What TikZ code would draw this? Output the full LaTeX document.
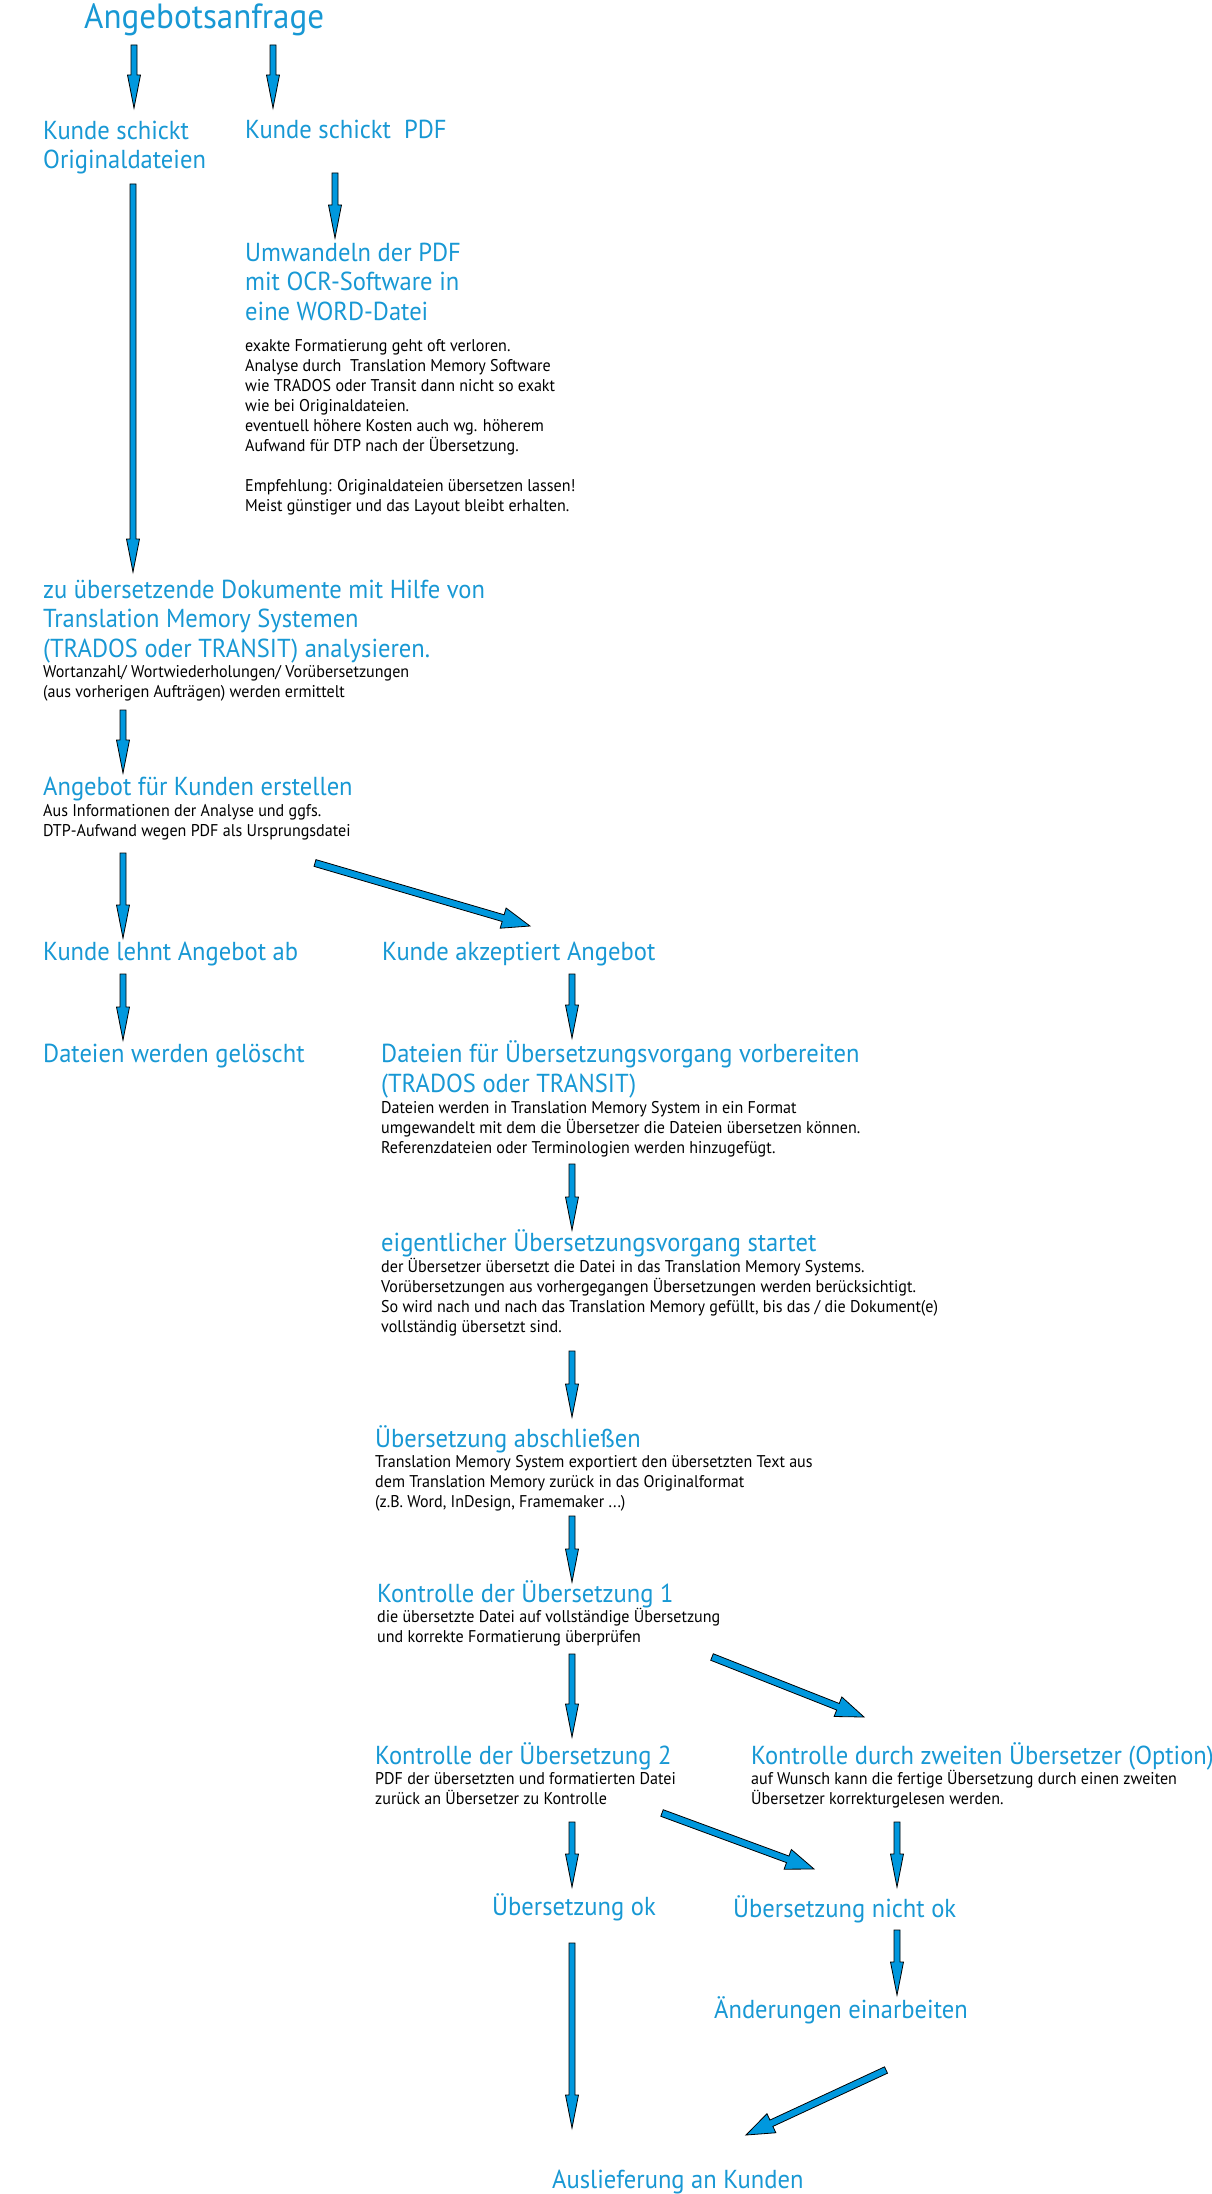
\documentclass[tikz,border=0pt]{standalone}
\usepackage{fontspec}
\setmainfont{PT Sans}[FakeStretch=0.945]
\usetikzlibrary{calc,positioning}
\definecolor{stepblue}{RGB}{24,152,212}
\definecolor{arrowblue}{RGB}{0,152,222}
\tikzset{
steptitle/.style={
  anchor=base west,
  inner sep=0pt,
  align=left,
  text=stepblue,
  font=\fontsize{26}{29.5}\selectfont
  },
stepnote/.style={
  anchor=base west,
  inner sep=0pt,
  align=left,
  font=\fontsize{17}{20}\selectfont
  },
arrowbody/.style={
  draw=black,
  line width=0.8pt,
  fill=arrowblue,
  line join=miter
  }
}
% block arrow: from, to, half shaft, half head, head length
\newcommand{\blockarrow}[5]{%
  \coordinate (ah) at ($(#2)!#5!(#1)$);
  \draw[arrowbody] ($(#1)!#3!90:(#2)$) -- ($(ah)!#3!90:(#2)$) -- ($(ah)!#4!90:(#2)$) -- (#2)
    -- ($(ah)!#4!-90:(#2)$) -- ($(ah)!#3!-90:(#2)$) -- ($(#1)!#3!-90:(#2)$) -- cycle;}
\newcommand{\flowarrow}[2]{\blockarrow{#1}{#2}{3pt}{6.5pt}{33pt}}
\newcommand{\sidearrow}[2]{\blockarrow{#1}{#2}{3.5pt}{10.5pt}{28pt}}

\begin{document}
\begin{tikzpicture}[x=1pt,y=-1pt]
  \useasboundingbox (0,0) rectangle (1211,2194);

  % steps (multi-line nodes sit on their last baseline)
  \node[steptitle,font=\fontsize{35}{40}\selectfont] (request) at (84,29) {Angebotsanfrage};
  \node[steptitle] (orig) at (43,169) {Kunde schickt\\Originaldateien};
  \node[steptitle] (pdf) at (245,139) {Kunde schickt\ \ PDF};
  \node[steptitle] (ocr) at (245,320) {Umwandeln der PDF\\mit OCR-Software in\\eine WORD-Datei};
  \node[stepnote] (ocrnote) at (245,511) {exakte Formatierung geht oft verloren.\\
    Analyse durch\ \ Translation Memory Software\\
    wie TRADOS oder Transit dann nicht so exakt\\
    wie bei Originaldateien.\\
    eventuell höhere Kosten auch wg. höherem\\
    Aufwand für DTP nach der Übersetzung.\\[20pt]
    Empfehlung: Originaldateien übersetzen lassen!\\
    Meist günstiger und das Layout bleibt erhalten.};
  \node[steptitle] (analyse) at (43,657) {zu übersetzende Dokumente mit Hilfe von\\Translation Memory Systemen\\(TRADOS oder TRANSIT) analysieren.};
  \node[stepnote] (analysenote) at (43,697) {Wortanzahl/ Wortwiederholungen/ Vorübersetzungen\\(aus vorherigen Aufträgen) werden ermittelt};
  \node[steptitle] (offer) at (43,795) {Angebot für Kunden erstellen};
  \node[stepnote] (offernote) at (43,836) {Aus Informationen der Analyse und ggfs.\\DTP-Aufwand wegen PDF als Ursprungsdatei};
  \node[steptitle] (reject) at (43,960) {Kunde lehnt Angebot ab};
  \node[steptitle] (accept) at (382,960) {Kunde akzeptiert Angebot};
  \node[steptitle] (deleted) at (43,1062) {Dateien werden gelöscht};
  \node[steptitle] (prepare) at (381,1092) {Dateien für Übersetzungsvorgang vorbereiten\\(TRADOS oder TRANSIT)};
  \node[stepnote] (preparenote) at (381,1153) {Dateien werden in Translation Memory System in ein Format\\
    umgewandelt mit dem die Übersetzer die Dateien übersetzen können.\\
    Referenzdateien oder Terminologien werden hinzugefügt.};
  \node[steptitle] (translate) at (381,1251) {eigentlicher Übersetzungsvorgang startet};
  \node[stepnote] (translatenote) at (381,1332) {der Übersetzer übersetzt die Datei in das Translation Memory Systems.\\
    Vorübersetzungen aus vorhergegangen Übersetzungen werden berücksichtigt.\\
    So wird nach und nach das Translation Memory gefüllt, bis das / die Dokument(e)\\
    vollständig übersetzt sind.};
  \node[steptitle] (finish) at (375,1447) {Übersetzung abschließen};
  \node[stepnote] (finishnote) at (375,1507) {Translation Memory System exportiert den übersetzten Text aus\\
    dem Translation Memory zurück in das Originalformat\\
    (z.B. Word, InDesign, Framemaker ...)};
  \node[steptitle] (check1) at (377,1602) {Kontrolle der Übersetzung 1};
  \node[stepnote] (check1note) at (377,1642) {die übersetzte Datei auf vollständige Übersetzung\\und korrekte Formatierung überprüfen};
  \node[steptitle] (check2) at (375,1764) {Kontrolle der Übersetzung 2};
  \node[stepnote] (check2note) at (375,1804) {PDF der übersetzten und formatierten Datei\\zurück an Übersetzer zu Kontrolle};
  \node[steptitle] (option) at (751,1764) {Kontrolle durch zweiten Übersetzer (Option)};
  \node[stepnote] (optionnote) at (751,1804) {auf Wunsch kann die fertige Übersetzung durch einen zweiten\\Übersetzer korrekturgelesen werden.};
  \node[steptitle] (ok) at (492,1915) {Übersetzung ok};
  \node[steptitle] (notok) at (733,1917) {Übersetzung nicht ok};
  \node[steptitle] (changes) at (714,2018) {Änderungen einarbeiten};
  \node[steptitle] (deliver) at (552,2188) {Auslieferung an Kunden};

  % arrow ends
  \coordinate (request-o1) at (134,45);   \coordinate (orig-i)     at (134,108);
  \coordinate (request-o2) at (273,45);   \coordinate (pdf-i)      at (273,108);
  \coordinate (orig-o)     at (133,184);  \coordinate (analyse-i)  at (133,572);
  \coordinate (pdf-o)      at (335,173);  \coordinate (ocr-i)      at (335,238);
  \coordinate (analyse-o)  at (123,710);  \coordinate (offer-i)    at (123,773);
  \coordinate (offer-o1)   at (123,853);  \coordinate (reject-i)   at (123,938);
  \coordinate (offer-o2)   at (315,863);  \coordinate (accept-i)   at (530,926);
  \coordinate (reject-o)   at (123,974);  \coordinate (deleted-i)  at (123,1040);
  \coordinate (accept-o)   at (572,974);  \coordinate (prepare-i)  at (572,1038);
  \coordinate (prepare-o)  at (572,1164); \coordinate (translate-i) at (572,1230);
  \coordinate (translate-o) at (572,1351); \coordinate (finish-i)  at (572,1417);
  \coordinate (finish-o)   at (572,1516); \coordinate (check1-i)   at (572,1582);
  \coordinate (check1-o1)  at (572,1654); \coordinate (check2-i)   at (572,1737);
  \coordinate (check1-o2)  at (712,1657); \coordinate (option-i)   at (864,1717);
  \coordinate (check2-o1)  at (572,1822); \coordinate (ok-i)       at (572,1887);
  \coordinate (check2-o2)  at (662,1813); \coordinate (notok-i1)   at (814,1869);
  \coordinate (option-o)   at (897,1822); \coordinate (notok-i2)   at (897,1887);
  \coordinate (notok-o)    at (897,1930); \coordinate (changes-i)  at (897,1995);
  \coordinate (ok-o)       at (572,1943); \coordinate (deliver-i1) at (572,2128);
  \coordinate (changes-o)  at (886,2070); \coordinate (deliver-i2) at (746,2135);

  % arrows
  \flowarrow{request-o1}{orig-i}
  \flowarrow{request-o2}{pdf-i}
  \flowarrow{orig-o}{analyse-i}
  \flowarrow{pdf-o}{ocr-i}
  \flowarrow{analyse-o}{offer-i}
  \flowarrow{offer-o1}{reject-i}
  \sidearrow{offer-o2}{accept-i}
  \flowarrow{reject-o}{deleted-i}
  \flowarrow{accept-o}{prepare-i}
  \flowarrow{prepare-o}{translate-i}
  \flowarrow{translate-o}{finish-i}
  \flowarrow{finish-o}{check1-i}
  \flowarrow{check1-o1}{check2-i}
  \sidearrow{check1-o2}{option-i}
  \flowarrow{check2-o1}{ok-i}
  \sidearrow{check2-o2}{notok-i1}
  \flowarrow{option-o}{notok-i2}
  \flowarrow{notok-o}{changes-i}
  \flowarrow{ok-o}{deliver-i1}
  \sidearrow{changes-o}{deliver-i2}
\end{tikzpicture}
\end{document}
